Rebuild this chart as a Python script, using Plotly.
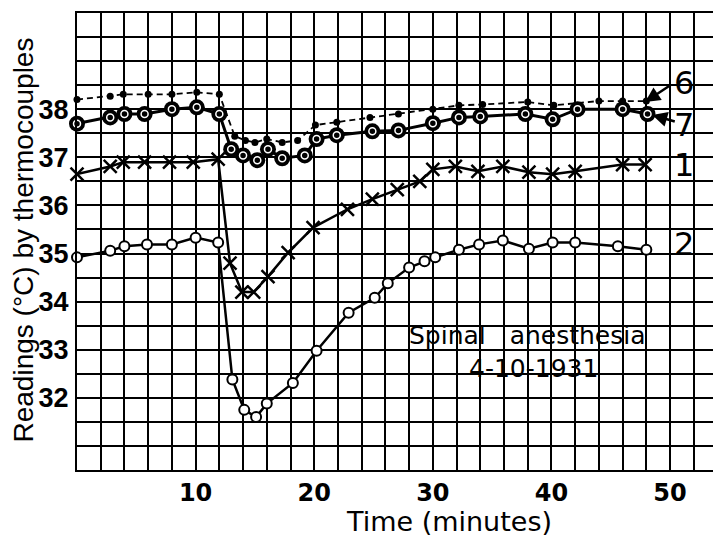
import plotly.graph_objects as go

# ---- data (minutes, °C) ----
t6 = [0, 2.8, 3.9, 6.0, 8.0, 10.1, 12.0, 13.3, 14.2, 15.0, 16.0, 17.3, 18.6, 20.1, 21.9,
      24.7, 27.1, 30.0, 32.2, 34.2, 38.0, 40.2, 44.0, 46.0, 48.0]
v6 = [38.2, 38.27, 38.31, 38.31, 38.31, 38.35, 38.31, 37.44, 37.35, 37.31, 37.38, 37.31, 37.35, 37.67, 37.73,
      37.83, 37.9, 38.0, 38.08, 38.1, 38.15, 38.08, 38.17, 38.17, 38.17]

t7 = [0, 2.8, 4.0, 5.7, 8.0, 10.1, 12.0, 13.0, 14.0, 15.2, 16.1, 17.3, 19.2, 20.2, 21.9,
      24.9, 27.1, 30.0, 32.2, 34.0, 37.8, 40.1, 42.2, 46.0, 48.1]
v7 = [37.7, 37.83, 37.9, 37.9, 38.0, 38.04, 37.9, 37.17, 37.04, 36.94, 37.17, 36.98, 37.04, 37.38, 37.46,
      37.54, 37.56, 37.71, 37.83, 37.85, 37.9, 37.79, 38.0, 38.0, 37.9]

t1 = [0, 2.8, 3.9, 5.7, 7.8, 9.8, 11.9, 12.9, 13.9, 14.9, 16.1, 17.8, 19.9, 22.8, 24.9,
      27.0, 28.9, 30.0, 31.9, 33.8, 35.9, 38.1, 40.1, 42.0, 46.0, 47.9]
v1 = [36.65, 36.81, 36.9, 36.9, 36.9, 36.9, 36.96, 34.8, 34.2, 34.2, 34.52, 35.02, 35.54, 35.92, 36.13,
      36.33, 36.5, 36.75, 36.81, 36.71, 36.81, 36.69, 36.65, 36.71, 36.85, 36.85]

t2 = [0, 2.8, 4.0, 5.9, 8.0, 10.0, 11.9, 13.1, 14.1, 15.1, 16.0, 18.2, 20.2, 22.9, 25.1,
      26.2, 28.0, 29.3, 30.2, 32.2, 33.9, 35.9, 38.1, 40.1, 42.0, 45.6, 48.0]
v2 = [34.92, 35.06, 35.15, 35.19, 35.19, 35.33, 35.23, 32.38, 31.75, 31.6, 31.88, 32.31, 32.98, 33.77, 34.08,
      34.38, 34.71, 34.84, 34.92, 35.08, 35.19, 35.27, 35.1, 35.23, 35.23, 35.15, 35.08]

x_ticks = [10, 20, 30, 40, 50]
y_ticks = [32, 33, 34, 35, 36, 37, 38]

series_labels = ["6", "7", "1", "2"]
label_y = [38.55, 37.68, 36.85, 35.2]

INK = "black"
NARROW = "Liberation Sans, Arial, sans-serif"
SANS = "DejaVu Sans, sans-serif"

fig = go.Figure()

# curve 6: dashed line with small dots
fig.add_trace(go.Scatter(x=t6, y=v6, mode="lines+markers", cliponaxis=False,
                         line=dict(color=INK, width=1.8, dash="6px,4px"),
                         marker=dict(symbol="circle", size=7, color=INK)))
# curve 7: solid line with big dotted circles
fig.add_trace(go.Scatter(x=t7, y=v7, mode="lines+markers", cliponaxis=False,
                         line=dict(color=INK, width=3),
                         marker=dict(symbol="circle", size=16, color=INK)))
fig.add_trace(go.Scatter(x=t7, y=v7, mode="markers", cliponaxis=False,
                         marker=dict(symbol="circle-open", size=7, color="white",
                                     line=dict(color="white", width=1.5))))
# curve 1: crosses
fig.add_trace(go.Scatter(x=t1, y=v1, mode="lines+markers", cliponaxis=False,
                         line=dict(color=INK, width=2.5),
                         marker=dict(symbol="x-thin", size=13, color=INK,
                                     line=dict(color=INK, width=2.5))))
# curve 2: open circles
fig.add_trace(go.Scatter(x=t2, y=v2, mode="lines+markers", cliponaxis=False,
                         line=dict(color=INK, width=2.5),
                         marker=dict(symbol="circle", size=10, color="white",
                                     line=dict(color=INK, width=2))))

grid = dict(showgrid=True, gridcolor=INK, gridwidth=1.8)

fig.update_layout(
    width=713, height=538,
    margin=dict(l=77, r=0, t=13, b=68),
    paper_bgcolor="white", plot_bgcolor="white",
    showlegend=False,
    xaxis=dict(range=[0, 53.62], tickvals=x_ticks, ticktext=[str(v) for v in x_ticks],
               ticks="", showline=True, linecolor=INK, linewidth=2, mirror=True,
               tickfont=dict(family=SANS, size=24, color=INK, weight="bold"),
               minor=dict(dtick=2, tick0=0, **grid), zeroline=False, **grid),
    yaxis=dict(range=[30.5, 40.0], tickvals=y_ticks, ticktext=[str(v) for v in y_ticks],
               ticks="", showline=True, linecolor=INK, linewidth=2,
               tickfont=dict(family=NARROW, size=27, color=INK, weight="bold"),
               ticklabelstandoff=1,
               minor=dict(dtick=0.5, tick0=30, **grid), zeroline=False, **grid),
)

ann = []
# axis titles
ann.append(dict(text="Time (minutes)", xref="paper", yref="paper", x=0.585, y=0,
                yshift=-51, showarrow=False, font=dict(family=SANS, size=27, color=INK),
                xanchor="center", yanchor="middle"))
ann.append(dict(text="Readings (°C) by thermocouples", xref="paper", yref="paper",
                x=0, y=0.5, xshift=-54, yshift=1, textangle=-90, showarrow=False,
                font=dict(family=NARROW, size=28, color=INK), xanchor="center", yanchor="middle"))
# note
ann.append(dict(text="Spinal   anesthesia", x=37.95, y=33.3, xref="x", yref="y",
                showarrow=False, font=dict(family=SANS, size=25, color=INK)))
ann.append(dict(text="4-10-1931", x=38.45, y=32.62, xref="x", yref="y",
                showarrow=False, font=dict(family=SANS, size=25, color=INK)))
# curve labels
for lab, ly in zip(series_labels, label_y):
    ann.append(dict(text=lab, x=51.2, y=ly, xref="x", yref="y", showarrow=False,
                    font=dict(family=SANS, size=32, color=INK)))
# arrows for 6 and 7
ann.append(dict(text="", x=47.9, y=38.15, xref="x", yref="y", ax=27, ay=-18,
                showarrow=True, arrowhead=2, arrowsize=1.2, arrowwidth=2.5, arrowcolor=INK))
ann.append(dict(text="", x=48.5, y=37.88, xref="x", yref="y", ax=24, ay=7,
                showarrow=True, arrowhead=2, arrowsize=1.2, arrowwidth=2.5, arrowcolor=INK))
fig.update_layout(annotations=ann)

fig.write_html("out.html")
